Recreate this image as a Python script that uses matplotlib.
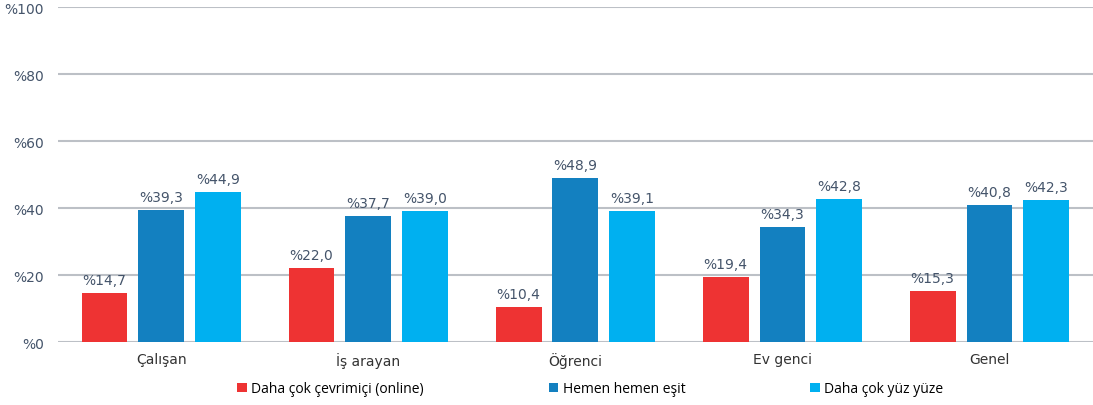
import matplotlib.pyplot as plt
import numpy as np

categories = ["Çalışan", "İş arayan", "Öğrenci", "Ev genci", "Genel"]
series = ["Daha çok çevrimiçi (online)", "Hemen hemen eşit", "Daha çok yüz yüze"]
online = [14.7, 22.0, 10.4, 19.4, 15.3]
esit = [39.3, 37.7, 48.9, 34.3, 40.8]
yuzyuze = [44.9, 39.0, 39.1, 42.8, 42.3]
yticks = [0, 20, 40, 60, 80, 100]

colors = ["#EE3333", "#1380C0", "#00B0F0"]
txt = "#44546A"

fig = plt.figure(figsize=(10.93, 4.06), dpi=100)
ax = fig.add_axes([0.053, 0.155, 0.947, 0.825])

x = np.arange(len(categories))
w = 0.222
off = 0.275
for i, (vals, c, lab) in enumerate(zip([online, esit, yuzyuze], colors, series)):
    bars = ax.bar(x + (i - 1) * off, vals, w, color=c, label=lab, zorder=3)
    for b, v in zip(bars, vals):
        ax.text(b.get_x() + b.get_width() / 2, v + 1.8, "%" + f"{v:.1f}".replace(".", ","),
                ha="center", va="bottom", fontsize=10, color=txt, family="DejaVu Sans")

ax.set_xlim(-0.5, len(categories) - 0.5)
ax.set_ylim(0, 100)
ax.set_yticks(yticks)
ax.set_yticklabels(["%" + str(t) for t in yticks], color=txt, fontsize=10)
ax.set_xticks(x)
ax.set_xticklabels(categories, color="#333333", fontsize=10)
ax.tick_params(axis="both", length=0)
ax.tick_params(axis="y", pad=10)
ax.tick_params(axis="x", pad=7)
ax.grid(axis="y", color="#BCC0C6", linewidth=1.5, zorder=0)
for s in ax.spines.values():
    s.set_visible(False)

fig.legend(loc="center", bbox_to_anchor=(0.54, 0.04), ncol=3, frameon=False,
           handlelength=0.7, handleheight=0.7, handletextpad=0.3,
           columnspacing=9.0, prop={"family": "Open Sans", "size": 10})

fig.savefig("out.png", dpi=100)
